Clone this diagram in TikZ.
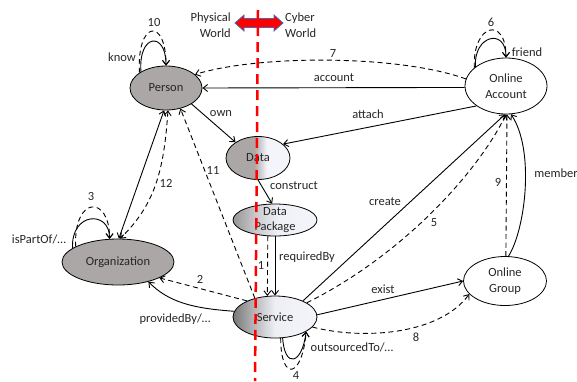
\documentclass[tikz,border=0pt]{standalone}
\usepackage{fontspec}
\setmainfont{Carlito}
\usetikzlibrary{arrows.meta,shapes.geometric}

\definecolor{nodegray}{RGB}{171,167,167}
\definecolor{txt}{RGB}{38,38,38}
\definecolor{paleblue}{RGB}{244,245,251}
\definecolor{worldblue}{RGB}{68,104,180}
\definecolor{divred}{RGB}{255,0,0}
\definecolor{pkgA}{RGB}{150,150,150}
\definecolor{pkgB}{RGB}{200,200,203}
\definecolor{pkgC}{RGB}{240,241,247}
\definecolor{svcA}{RGB}{120,120,120}
\definecolor{svcB}{RGB}{185,185,188}
\definecolor{svcC}{RGB}{238,239,245}

% left-to-right fades used by the data and service ellipses
\pgfdeclarehorizontalshading{datashade}{100bp}{color(0bp)=(nodegray); color(25bp)=(nodegray); color(47bp)=(nodegray); color(57bp)=(paleblue); color(100bp)=(paleblue)}
\pgfdeclarehorizontalshading{pkgshade}{100bp}{color(0bp)=(pkgA); color(25bp)=(pkgA); color(38bp)=(pkgB); color(52bp)=(pkgC); color(75bp)=(paleblue); color(100bp)=(paleblue)}
\pgfdeclarehorizontalshading{svcshade}{100bp}{color(0bp)=(svcA); color(25bp)=(svcA); color(38bp)=(svcB); color(50bp)=(svcC); color(75bp)=(paleblue); color(100bp)=(paleblue)}

\tikzset{
  ent/.style={ellipse, draw=black, line width=0.8pt, inner sep=0pt, text=txt,
    align=center, font=\fontsize{12.5}{15.5}\selectfont},
  lbl/.style={text=txt, inner sep=0pt, font=\fontsize{12.5}{15.5}\selectfont},
  rel/.style={line width=0.9pt, ->},
  dsh/.style={dash pattern=on 5pt off 3.5pt},
  >={Straight Barb[length=4.5pt,width=7pt]},
}

\begin{document}
\begin{tikzpicture}[x=1pt,y=-1pt]
\useasboundingbox (0,0) rectangle (577,381);

% entities
\node[ent, fill=nodegray, minimum width=72pt, minimum height=44pt] (person) at (166,88) {Person};
\node[ent, shade, shading=datashade, minimum width=64pt, minimum height=43pt] (data) at (258,158) {Data};
\node[ent, shade, shading=pkgshade, inner ysep=-8pt, minimum width=84pt, minimum height=32pt] (pkg) at (275,220) {Data\\Package};
\node[ent, shade, shading=svcshade, minimum width=84pt, minimum height=42pt] (service) at (275,317) {Service};
\node[ent, fill=nodegray, minimum width=112pt, minimum height=46pt] (org) at (118,262) {Organization};
\node[ent, fill=white, minimum width=82pt, minimum height=56pt] (acct) at (506,86) {Online\\Account};
\node[ent, fill=white, minimum width=83pt, minimum height=49pt] (group) at (505,281) {Online\\Group};

% self loops
\draw[rel] (person.147) .. controls +(-3,-38) and +(0,-35) .. (person.90);
\draw[rel,dsh] (person.150) .. controls +(-3,-52) and +(0,-49) .. (person.90);
\draw[rel] (acct.148) .. controls +(-2,-32) and +(0,-30) .. (acct.90);
\draw[rel,dsh] (acct.150) .. controls +(-2,-44) and +(0,-42) .. (acct.90);
\draw[rel] (org.163) .. controls +(-2,-36) and +(0,-29) .. (org.110);
\draw[rel,dsh] (org.160) .. controls +(-2,-51) and +(0,-44) .. (org.110);
\draw[rel] (service.-70) .. controls +(2,31) and +(-4,33) .. (service.-25);
\draw[rel,dsh] (service.-75) .. controls +(0,44) and +(-4,47) .. (service.-25);

% relations
\draw[rel] (acct.182) -- (person.east);
\draw[rel] (acct.-146) -- (data.29);
\draw[rel] (person.-32) -- (data.145);
\draw[rel] (data.south) -- (pkg.100);
\draw[rel] (pkg.south) -- (pkg.south |- service.north);
\draw[rel,dsh] (pkg.-114) -- (service.110);
\draw[rel] (service.172) .. controls +(-43,-3) and +(20,20) .. (org.-33);
\draw[rel,dsh] (service.150) -- (org.-21);
\draw[rel,<->] (person.-95) -- (org.88);
\draw[rel,dsh,<->] (person.-85) .. controls +(-4,60) and +(35,-34) .. (org.85);
\draw[rel,dsh] (service.137) -- (person.-55);
\draw[rel] (service.30) -- (acct.-92);
\draw[rel,dsh] (service.24) .. controls +(100,-50) and +(-26,54) .. (acct.-90);
\draw[rel,dsh] (group.88) -- (acct.-88);
\draw[rel] (group.82) .. controls +(17,-27) and +(24,36) .. (acct.-80);
\draw[rel] (service.3) -- (group.west);
\draw[rel,dsh] (service.-15) .. controls +(50,13) and +(-30,41) .. (group.-160);
\draw[rel,dsh] (acct.170) .. controls +(-66,-24) and +(65,-20) .. (person.25);

% relation labels
\node[lbl] (l10) at (154,22) {10};
\node[lbl] (lknow) at (122,57) {know};
\node[lbl] (l6) at (491,22) {6};
\node[lbl] (lfriend) at (527,52) {friend};
\node[lbl] (l3) at (91,196) {3};
\node[lbl] (lpart) at (39,239) {isPartOf/…};
\node[lbl] (l4) at (296,375) {4};
\node[lbl] (lout) at (352,347) {outsourcedTo/…};
\node[lbl] (laccount) at (334,78) {account};
\node[lbl] (lattach) at (368,114) {attach};
\node[lbl] (lown) at (221,114) {own};
\node[lbl] (lconstruct) at (294,186) {construct};
\node[lbl] (lreq) at (307,257) {requiredBy};
\node[lbl] (l1) at (261,265) {1};
\node[lbl] (lprov) at (175,319) {providedBy/…};
\node[lbl] (l2) at (200,279) {2};
\node[lbl] (l12) at (166,183) {12};
\node[lbl] (l11) at (213,170) {11};
\node[lbl] (l7) at (333,53) {7};
\node[lbl] (lcreate) at (385,202) {create};
\node[lbl] (l5) at (434,223) {5};
\node[lbl] (l9) at (498,182) {9};
\node[lbl] (lmember) at (556,173) {member};
\node[lbl] (lexist) at (383,289) {exist};
\node[lbl] (l8) at (416,337) {8};

% physical / cyber divide
\node[lbl, align=right, anchor=east] (phys) at (231,25) {Physical\\World};
\node[lbl, align=left, anchor=west] (cyber) at (285,25) {Cyber\\World};
\draw[fill=divred, draw=worldblue, line width=0.8pt]
  (235,23) -- (244,15) -- (244,18.5) -- (274,18.5) -- (274,15) -- (283,23)
  -- (274,31) -- (274,27.5) -- (244,27.5) -- (244,31) -- cycle;
\coordinate (divtop) at (258,10);
\coordinate (divbot) at (255,381);
\draw[divred, line width=2.5pt, dash pattern=on 10pt off 6pt] (divtop) -- (divbot);
\end{tikzpicture}
\end{document}
